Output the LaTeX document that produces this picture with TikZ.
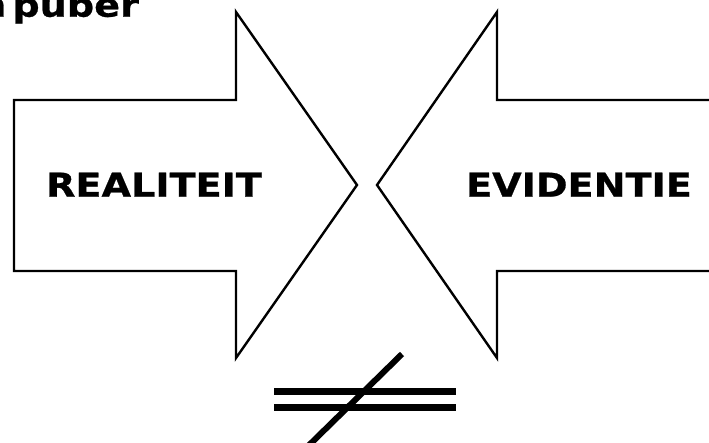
\documentclass[tikz,border=0pt]{standalone}
\usepackage{fontspec}
\newfontfamily\vb{DejaVu Sans Bold}[FakeStretch=1.16,FakeBold=0.8]
\begin{document}
\begin{tikzpicture}[x=1pt,y=-1pt,
  arrowshape/.style={draw=black,line width=2.4pt,line join=miter,fill=white},
  label/.style={font=\vb\fontsize{32.9}{36}\selectfont,inner sep=0pt,anchor=base},
  bar/.style={line width=7pt},
  slash/.style={line width=6pt}]
\useasboundingbox (0,0) rectangle (709,442);
\begin{scope}
\clip (0,0) rectangle (709,442);
% top-left cut text
\node[label,anchor=base west] (cut) at (-21,16.7) {n\kern6pt puber};
% left arrow
\draw[arrowshape] (14,100) -- (236,100) -- (236,12) -- (357,185) -- (236,358) -- (236,271) -- (14,271) -- cycle;
% right arrow
\draw[arrowshape] (720,100) -- (497,100) -- (497,12) -- (377,185) -- (497,358) -- (497,271) -- (720,271);
\node[label] (real) at (154,196.7) {REALITEIT};
\node[label] (evid) at (579,196.7) {EVIDENTIE};
% not equal sign
\coordinate (b1l) at (274,391.5); \coordinate (b1r) at (456,391.5);
\coordinate (b2l) at (274,407.5); \coordinate (b2r) at (456,407.5);
\coordinate (st) at (402,354); \coordinate (sb) at (300,454);
\draw[bar] (b1l) -- (b1r);
\draw[bar] (b2l) -- (b2r);
\draw[slash] (st) -- (sb);
\end{scope}
\end{tikzpicture}
\end{document}
